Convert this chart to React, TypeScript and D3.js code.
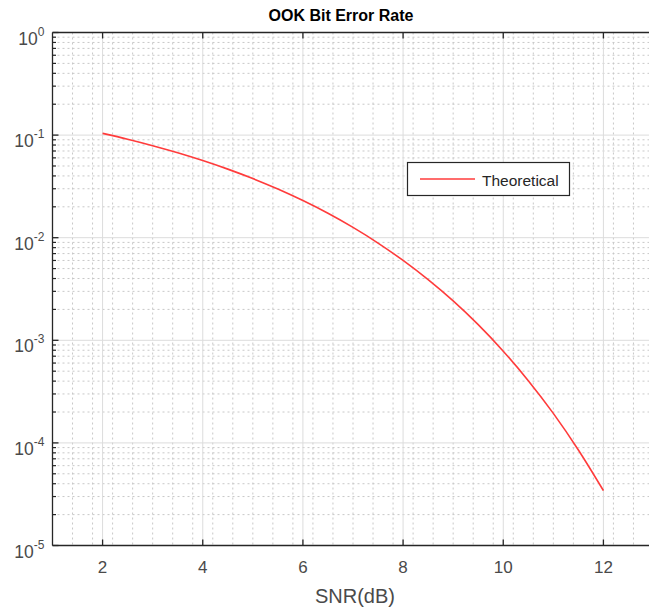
import React from "react";
import * as d3 from "d3";

const snrDb = [2, 2.5, 3, 3.5, 4, 4.5, 5, 5.5, 6, 6.5, 7, 7.5, 8, 8.5, 9, 9.5, 10, 10.5, 11, 11.5, 12];
const ber = [0.104, 0.0912, 0.0789, 0.0673, 0.0565, 0.0466, 0.0377, 0.0298, 0.023, 0.0173, 0.0126, 0.00887, 0.006, 0.0039, 0.00242, 0.00142, 0.000783, 0.000404, 0.000194, 0.0000853, 0.0000343];
const xTicks = [2, 4, 6, 8, 10, 12];
const yExponents = [0, -1, -2, -3, -4, -5];
const title = "OOK Bit Error Rate";
const xLabel = "SNR(dB)";
const legendLabel = "Theoretical";

const W = 649;
const H = 611;
const L = 52.5;
const T = 32.5;
const B = 545.5;
const R = 653.5;

export default function App() {
  const x = d3.scaleLinear().domain([1, 13]).range([L, R]);
  const y = d3.scaleLog().domain([1e-5, 1]).range([B, T]);

  const minorX: number[] = [];
  for (let i = 1; i <= 30; i++) {
    const v = 1 + i * 0.4;
    if (v >= 13) break;
    if (Math.abs(v / 2 - Math.round(v / 2)) < 1e-6) continue;
    minorX.push(v);
  }
  const minorY: number[] = [];
  for (let e = -5; e < 0; e++) {
    for (let m = 2; m <= 9; m++) minorY.push(m * Math.pow(10, e));
  }

  const line = d3
    .line<number>()
    .x((_, i) => x(snrDb[i]))
    .y((d) => y(d))
    .curve(d3.curveMonotoneX);

  const axisColor = "#262626";
  const labelColor = "#4a4a4a";
  const font = "'Liberation Sans', Arial, sans-serif";

  return (
    <svg
      width={W}
      height={H}
      style={{ position: "absolute", left: 0, top: 0, background: "#fff" }}
      fontFamily={font}
    >
      <rect x={0} y={0} width={W} height={H} fill="#fff" />
      {/* minor grid */}
      {minorX.map((v) => (
        <line key={"mx" + v} x1={x(v)} x2={x(v)} y1={T} y2={B} stroke="#c8c8c8" strokeWidth={1} strokeDasharray="2,3" />
      ))}
      {minorY.map((v) => (
        <line key={"my" + v} x1={L} x2={R} y1={y(v)} y2={y(v)} stroke="#c8c8c8" strokeWidth={1} strokeDasharray="2,3" />
      ))}
      {/* major grid */}
      {xTicks.map((v) => (
        <line key={"gx" + v} x1={x(v)} x2={x(v)} y1={T} y2={B} stroke="#dcdcdc" strokeWidth={1} />
      ))}
      {yExponents.map((e) => (
        <line key={"gy" + e} x1={L} x2={R} y1={y(Math.pow(10, e))} y2={y(Math.pow(10, e))} stroke="#dcdcdc" strokeWidth={1} />
      ))}
      {/* data line */}
      <path d={line(ber) || ""} fill="none" stroke="#ff3b3b" strokeWidth={1.6} />
      {/* axes box */}
      <line x1={L} x2={R} y1={T} y2={T} stroke={axisColor} strokeWidth={1.3} />
      <line x1={L} x2={R} y1={B} y2={B} stroke={axisColor} strokeWidth={1.3} />
      <line x1={L} x2={L} y1={T} y2={B} stroke={axisColor} strokeWidth={1.3} />
      {/* x ticks */}
      {xTicks.map((v) => (
        <g key={"xt" + v}>
          <line x1={x(v)} x2={x(v)} y1={B} y2={B - 6} stroke={axisColor} strokeWidth={1.3} />
          <line x1={x(v)} x2={x(v)} y1={T} y2={T + 6} stroke={axisColor} strokeWidth={1.3} />
          <text x={x(v)} y={B + 27.5} textAnchor="middle" fontSize={17} fill={labelColor}>
            {v}
          </text>
        </g>
      ))}
      {/* y ticks */}
      {yExponents.map((e) => (
        <g key={"yt" + e}>
          <line x1={L} x2={L + 6} y1={y(Math.pow(10, e))} y2={y(Math.pow(10, e))} stroke={axisColor} strokeWidth={1.3} />
          <text x={L - 8} y={y(Math.pow(10, e)) + 12} textAnchor="end" fontSize={17.5} fill={labelColor}>
            <tspan>10</tspan>
            <tspan dy={-9} fontSize={12}>{e}</tspan>
          </text>
        </g>
      ))}
      {minorY.map((v) => (
        <line key={"ymt" + v} x1={L} x2={L + 3.5} y1={y(v)} y2={y(v)} stroke={axisColor} strokeWidth={1.2} />
      ))}
      {/* title */}
      <text x={341} y={21} textAnchor="middle" fontSize={16} fontWeight="bold" fill="#000">
        {title}
      </text>
      {/* x label */}
      <text x={355} y={603} textAnchor="middle" fontSize={20} fill={labelColor}>
        {xLabel}
      </text>
      {/* legend */}
      <rect x={407.5} y={162.5} width={162} height={33} fill="#fff" stroke={axisColor} strokeWidth={1.2} />
      <line x1={420} x2={475} y1={179} y2={179} stroke="#ff3b3b" strokeWidth={1.6} />
      <text x={482} y={186} fontSize={15.5} fill="#262626">
        {legendLabel}
      </text>
    </svg>
  );
}
